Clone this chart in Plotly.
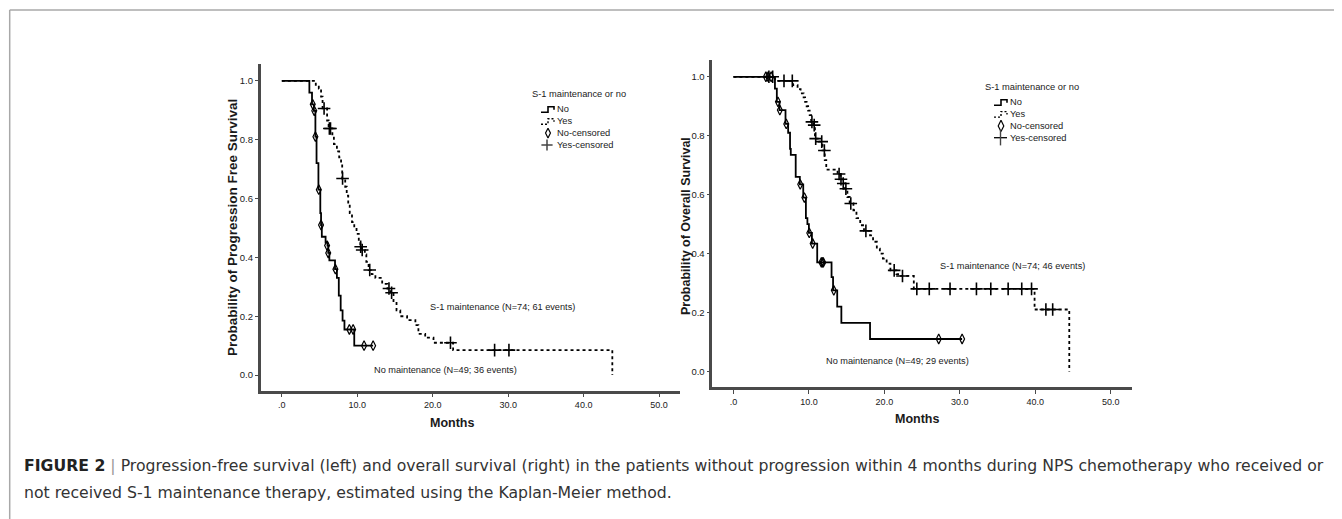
import plotly.graph_objects as go

W, H = 1342, 519          # browser window
OFF = 8                   # default <body> margin of the page
FW, FH = W - OFF, H - OFF  # figure size

# ---------------- data ----------------
# Progression-free survival, no maintenance (solid)
pfs_no_t = [0, 3.65, 4.0, 4.25, 4.45, 4.6, 4.85, 5.1, 5.2, 5.3, 5.8, 6.05, 6.15, 6.3, 7.05, 7.3, 7.55, 7.8, 8.05, 8.3, 9.6, 12.1]
pfs_no_s = [1.0, 0.96, 0.92, 0.898, 0.81, 0.72, 0.63, 0.55, 0.51, 0.47, 0.45, 0.44, 0.415, 0.39, 0.36, 0.33, 0.27, 0.22, 0.185, 0.155, 0.10, 0.10]
pfs_no_cens_t = [4.1, 4.3, 4.45, 4.9, 5.2, 6.0, 6.15, 7.1, 8.95, 9.45, 10.9, 12.1]
pfs_no_cens_s = [0.92, 0.898, 0.81, 0.63, 0.51, 0.44, 0.415, 0.36, 0.155, 0.155, 0.10, 0.10]

# Progression-free survival, S-1 maintenance (dashed)
pfs_yes_t = [0, 4.5, 4.9, 5.2, 5.4, 6.0, 6.2, 6.7, 6.9, 7.3, 7.6, 7.85, 8.0, 8.4, 8.6, 8.8, 9.0, 9.3, 9.6, 9.9,
             10.2, 10.4, 10.6, 11.0, 11.2, 11.5, 11.9, 12.4, 13.3, 14.0, 14.4, 14.8, 15.2, 15.7, 16.6, 17.7,
             18.1, 19.0, 20.1, 22.7, 43.8]
pfs_yes_s = [1.0, 0.986, 0.973, 0.946, 0.906, 0.865, 0.838, 0.81, 0.785, 0.76, 0.74, 0.72, 0.668, 0.64, 0.61, 0.58,
             0.55, 0.52, 0.50, 0.48, 0.455, 0.436, 0.425, 0.41, 0.385, 0.357, 0.343, 0.33, 0.31, 0.294, 0.28,
             0.245, 0.22, 0.20, 0.187, 0.17, 0.14, 0.127, 0.11, 0.085, 0.0]
pfs_yes_cens_t = [5.6, 6.3, 6.45, 8.05, 10.45, 10.65, 11.65, 14.2, 14.55, 22.35, 28.2, 30.1]
pfs_yes_cens_s = [0.906, 0.838, 0.838, 0.668, 0.436, 0.425, 0.357, 0.294, 0.28, 0.11, 0.085, 0.085]

# Overall survival, no maintenance (solid)
os_no_t = [0, 5.5, 5.75, 6.1, 6.9, 7.25, 7.5, 7.6, 8.25, 8.8, 9.25, 9.6, 9.8, 10.0, 10.4, 11.1, 13.0, 13.2,
           13.75, 14.3, 18.1, 30.3]
os_no_s = [1.0, 0.96, 0.915, 0.887, 0.84, 0.81, 0.755, 0.735, 0.66, 0.635, 0.59, 0.52, 0.50, 0.47, 0.434, 0.37,
           0.32, 0.275, 0.22, 0.165, 0.11, 0.11]
os_no_cens_t = [4.3, 4.6, 5.0, 5.9, 6.15, 7.0, 8.85, 9.4, 10.05, 10.5, 11.65, 11.8, 11.9, 13.3, 27.2, 30.3]
os_no_cens_s = [1.0, 1.0, 1.0, 0.915, 0.887, 0.84, 0.635, 0.59, 0.47, 0.434, 0.37, 0.37, 0.37, 0.275, 0.11, 0.11]

# Overall survival, S-1 maintenance (dashed)
os_yes_t = [0, 5.5, 7.9, 8.5, 8.9, 9.3, 9.5, 9.7, 9.9, 10.1, 10.3, 10.6, 10.8, 11.3, 11.8, 12.1, 12.3, 13.8,
            14.2, 14.5, 14.8, 15.1, 15.4, 15.9, 16.3, 16.8, 17.3, 18.1, 18.5, 19.0, 19.4, 19.8, 20.3, 20.8,
            21.6, 22.2, 23.9, 39.9, 44.5]
os_yes_s = [1.0, 0.986, 0.972, 0.958, 0.944, 0.93, 0.915, 0.90, 0.885, 0.87, 0.847, 0.836, 0.79, 0.78, 0.75,
            0.717, 0.685, 0.67, 0.652, 0.638, 0.62, 0.592, 0.57, 0.547, 0.52, 0.496, 0.477, 0.462, 0.44, 0.417,
            0.40, 0.383, 0.366, 0.343, 0.33, 0.324, 0.28, 0.21, 0.0]
os_yes_cens_t = [4.7, 5.2, 6.7, 7.8, 10.4, 10.7, 10.9, 11.7, 12.05, 14.0, 14.25, 14.55, 14.9, 15.55, 17.55,
                 21.3, 22.4, 24.3, 25.95, 28.7, 32.2, 34.1, 36.4, 38.2, 39.5, 41.4, 42.3]
os_yes_cens_s = [1.0, 1.0, 0.986, 0.986, 0.847, 0.836, 0.79, 0.78, 0.75, 0.67, 0.652, 0.638, 0.62, 0.57, 0.477,
                 0.343, 0.324, 0.28, 0.28, 0.28, 0.28, 0.28, 0.28, 0.28, 0.28, 0.21, 0.21]

x_ticks = [0, 10, 20, 30, 40, 50]
x_tick_labels = [".0", "10.0", "20.0", "30.0", "40.0", "50.0"]
y_ticks = [0, 0.2, 0.4, 0.6, 0.8, 1.0]
y_tick_labels = ["0.0", "0.2", "0.4", "0.6", "0.8", "1.0"]

legend_title = "S-1 maintenance or no"
legend_items = ["No", "Yes", "No-censored", "Yes-censored"]
caption_label = "FIGURE 2"
caption_line1 = ("Progression-free survival (left) and overall survival (right) in the patients without "
                 "progression within 4 months during NPS chemotherapy who received or")
caption_line2 = "not received S-1 maintenance therapy, estimated using the Kaplan-Meier method."

# ---------------- styling ----------------
SANS = "Liberation Sans, Arial, sans-serif"
CAPF = "DejaVu Sans, Verdana, sans-serif"
AX = "#4a4a4a"
TXT = "#1a1a1a"


def px(x):
    return (x - OFF) / FW


def py(y):
    return 1 - (y - OFF) / FH


fig = go.Figure()

panels = [
    dict(xa="x", ya="y", no=(pfs_no_t, pfs_no_s, pfs_no_cens_t, pfs_no_cens_s),
         yes=(pfs_yes_t, pfs_yes_s, pfs_yes_cens_t, pfs_yes_cens_s)),
    dict(xa="x2", ya="y2", no=(os_no_t, os_no_s, os_no_cens_t, os_no_cens_s),
         yes=(os_yes_t, os_yes_s, os_yes_cens_t, os_yes_cens_s)),
]

for p in panels:
    t, s, ct, cs = p["yes"]
    fig.add_trace(go.Scatter(x=t, y=s, mode="lines", line=dict(color="black", width=1.8, dash="3px,3px", shape="hv"),
                             xaxis=p["xa"], yaxis=p["ya"], showlegend=False, hoverinfo="skip"))
    t, s, ct, cs = p["no"]
    fig.add_trace(go.Scatter(x=t, y=s, mode="lines", line=dict(color="black", width=1.8, shape="hv"),
                             xaxis=p["xa"], yaxis=p["ya"], showlegend=False, hoverinfo="skip"))
    fig.add_trace(go.Scatter(x=ct, y=cs, mode="markers",
                             marker=dict(symbol="diamond-tall-open", size=7, color="black", line=dict(width=1.2)),
                             xaxis=p["xa"], yaxis=p["ya"], showlegend=False, hoverinfo="skip"))
    t, s, ct, cs = p["yes"]
    fig.add_trace(go.Scatter(x=ct, y=cs, mode="markers",
                             marker=dict(symbol="cross-thin", size=9, color="black", line=dict(width=1.6, color="black")),
                             xaxis=p["xa"], yaxis=p["ya"], showlegend=False, hoverinfo="skip"))

# ---------------- legend (drawn in a pixel overlay axis) ----------------
LFS = 9.3
legends = [dict(tx=530, ty=94, gx=541, lx=555, y0=109.3, dy=11.9),
           dict(tx=983, ty=86.7, gx=994, lx=1008, y0=102.3, dy=11.8)]
annotations = []
for k, L in enumerate(legends):
    annotations.append(dict(x=px(L["tx"]), y=py(L["ty"]), xref="paper", yref="paper", text=legend_title,
                            showarrow=False, xanchor="left", yanchor="middle",
                            font=dict(family=SANS, size=LFS, color=TXT)))
    for i, name in enumerate(legend_items):
        yy = L["y0"] + i * L["dy"]
        annotations.append(dict(x=px(L["lx"]), y=py(yy), xref="paper", yref="paper", text=name,
                                showarrow=False, xanchor="left", yanchor="middle",
                                font=dict(family=SANS, size=LFS, color=TXT)))
    g = L["gx"]
    y1 = L["y0"]
    y2 = L["y0"] + L["dy"]
    fig.add_trace(go.Scatter(x=[g, g + 7, g + 13, g + 13], y=[y1 + 3, y1 - 2.5, y1 - 2.5, y1 + 0.5],
                             mode="lines", line=dict(color="black", width=1.6, shape="hv"),
                             xaxis="x3", yaxis="y3", showlegend=False, hoverinfo="skip"))
    fig.add_trace(go.Scatter(x=[g, g + 7, g + 13, g + 13], y=[y2 + 3, y2 - 2.5, y2 - 2.5, y2 + 0.5],
                             mode="lines", line=dict(color="black", width=1.4, shape="hv", dash="2px,2px"),
                             xaxis="x3", yaxis="y3", showlegend=False, hoverinfo="skip"))
    fig.add_trace(go.Scatter(x=[g + 7], y=[L["y0"] + 2 * L["dy"]], mode="markers",
                             marker=dict(symbol="diamond-tall-open", size=8 if k else 7, color="black",
                                         line=dict(width=1.2)),
                             xaxis="x3", yaxis="y3", showlegend=False, hoverinfo="skip"))
    if k == 0:
        fig.add_trace(go.Scatter(x=[g + 6], y=[L["y0"] + 3 * L["dy"]], mode="markers",
                                 marker=dict(symbol="cross-thin", size=8, color="black", line=dict(width=1.5)),
                                 xaxis="x3", yaxis="y3", showlegend=False, hoverinfo="skip"))
    else:
        fig.add_trace(go.Scatter(x=[g, g + 13], y=[L["y0"] + 3 * L["dy"]] * 2, mode="lines",
                                 line=dict(color="black", width=1.3),
                                 xaxis="x3", yaxis="y3", showlegend=False, hoverinfo="skip"))
        fig.add_trace(go.Scatter(x=[g + 6.5], y=[L["y0"] + 3 * L["dy"]], mode="markers",
                                 marker=dict(symbol="line-ns", size=11, color="black", line=dict(width=1.4)),
                                 xaxis="x3", yaxis="y3", showlegend=False, hoverinfo="skip"))

# ---------------- in-plot texts ----------------
texts = [
    (502, 307.3, "S-1 maintenance (N=74; 61 events)"),
    (445, 370, "No maintenance (N=49; 36 events)"),
    (1012, 266, "S-1 maintenance (N=74; 46 events)"),
    (897, 360.7, "No maintenance (N=49; 29 events)"),
]
for x, y, t in texts:
    annotations.append(dict(x=px(x), y=py(y), xref="paper", yref="paper", text=t, showarrow=False,
                            xanchor="center", yanchor="middle", font=dict(family=SANS, size=9.2, color=TXT)))

annotations += [
    dict(x=px(232), y=py(228), xref="paper", yref="paper", text="<b>Probability of Progression Free Survival</b>",
         textangle=-90, showarrow=False, xanchor="center", yanchor="middle",
         font=dict(family=SANS, size=13.5, color=TXT)),
    dict(x=px(686), y=py(226), xref="paper", yref="paper", text="<b>Probability of Overall Survival</b>",
         textangle=-90, showarrow=False, xanchor="center", yanchor="middle",
         font=dict(family=SANS, size=12.5, color=TXT)),
    dict(x=px(452), y=py(423), xref="paper", yref="paper", text="<b>Months</b>", showarrow=False,
         xanchor="center", yanchor="middle", font=dict(family=SANS, size=12.5, color=TXT)),
    dict(x=px(917), y=py(419), xref="paper", yref="paper", text="<b>Months</b>", showarrow=False,
         xanchor="center", yanchor="middle", font=dict(family=SANS, size=12.5, color=TXT)),
]

# ---------------- caption ----------------
CFS = 15.7
annotations.append(dict(
    x=px(23), y=py(465), xref="paper", yref="paper", showarrow=False, xanchor="left", yanchor="middle", borderpad=0,
    text="<b><span style='color:#222222'>%s</span></b> <span style='color:#9a9a9a'>|</span> %s" % (caption_label, caption_line1),
    font=dict(family=CAPF, size=CFS, color="#333333")))
annotations.append(dict(
    x=px(23), y=py(492), xref="paper", yref="paper", showarrow=False, xanchor="left", yanchor="middle", borderpad=0,
    text=caption_line2, font=dict(family=CAPF, size=CFS, color="#333333")))

xr = [-2.8, 52.77]
yr = [-0.053, 1.057]
xcommon = dict(range=xr, tickvals=x_ticks, ticktext=x_tick_labels, showgrid=False, zeroline=False,
               showline=True, linecolor=AX, linewidth=2.5, ticks="outside", ticklen=4, tickwidth=1,
               tickcolor=AX, tickfont=dict(family=SANS, size=9, color=TXT), fixedrange=True)
ycommon = dict(range=yr, tickvals=y_ticks, ticktext=y_tick_labels, showgrid=False, zeroline=False,
               showline=True, linecolor=AX, linewidth=2.5, ticks="outside", ticklen=3, tickwidth=1,
               tickcolor=AX, tickfont=dict(family=SANS, size=9.5, color=TXT), fixedrange=True)

fig.update_layout(
    width=FW, height=FH, margin=dict(l=0, r=0, t=0, b=0),
    paper_bgcolor="white", plot_bgcolor="rgba(0,0,0,0)",
    xaxis=dict(domain=[px(260.7), px(680)], anchor="y", **xcommon),
    yaxis=dict(domain=[py(390.7), py(64)], anchor="x", **ycommon),
    xaxis2=dict(domain=[px(712.3), px(1131.7)], anchor="y2", **xcommon),
    yaxis2=dict(domain=[py(387), py(60)], anchor="x2", **ycommon),
    xaxis3=dict(domain=[0, 1], range=[OFF, W], visible=False, anchor="y3", fixedrange=True),
    yaxis3=dict(domain=[0, 1], range=[H, OFF], visible=False, anchor="x3", fixedrange=True),
    annotations=annotations,
    shapes=[
        dict(type="line", xref="paper", yref="paper", x0=px(9.7), x1=1, y0=py(10), y1=py(10),
             line=dict(color="#a8a8a8", width=1.5)),
        dict(type="line", xref="paper", yref="paper", x0=px(9.7), x1=px(9.7), y0=py(10), y1=0,
             line=dict(color="#a8a8a8", width=1.5)),
    ],
    showlegend=False,
)

fig.write_html("out.html")
